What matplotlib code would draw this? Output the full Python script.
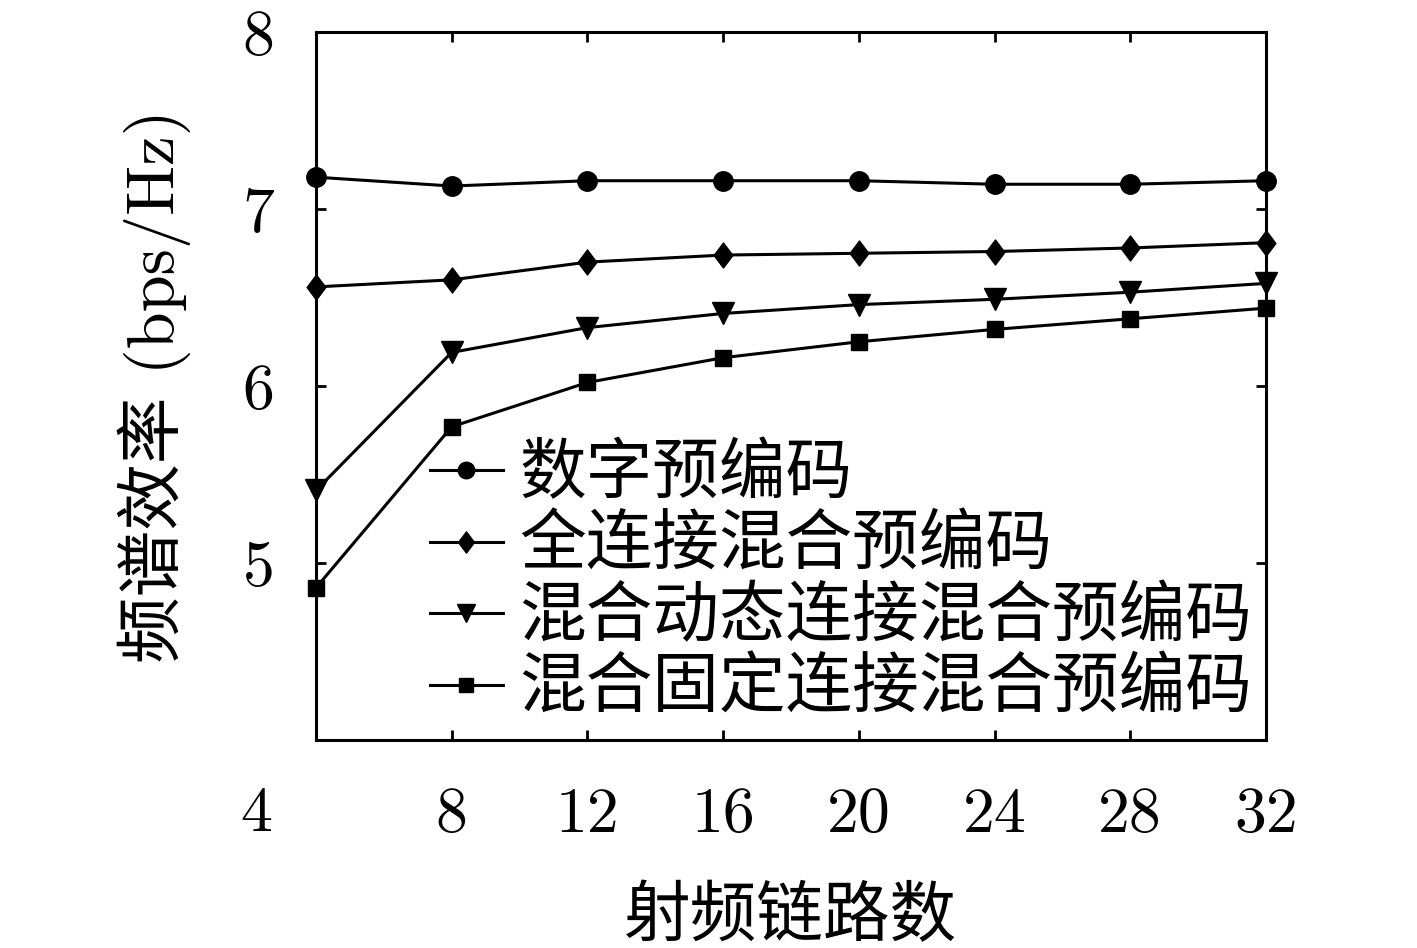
import numpy as np
import matplotlib
matplotlib.use('Agg')
import matplotlib.pyplot as plt
from matplotlib.path import Path

plt.rcParams['font.family'] = ['cmr10', 'Noto Sans CJK SC']
plt.rcParams['axes.unicode_minus'] = False

# data
rf_chains = [4, 8, 12, 16, 20, 24, 28, 32]
digital = [7.18, 7.13, 7.16, 7.16, 7.16, 7.14, 7.14, 7.16]
full_conn = [6.56, 6.60, 6.70, 6.74, 6.75, 6.76, 6.78, 6.81]
dynamic = [5.41, 6.19, 6.33, 6.41, 6.46, 6.49, 6.53, 6.58]
fixed = [4.86, 5.77, 6.02, 6.16, 6.25, 6.32, 6.38, 6.44]
labels = ['数字预编码', '全连接混合预编码', '混合动态连接混合预编码', '混合固定连接混合预编码']
xticks = [4, 8, 12, 16, 20, 24, 28, 32]
yticks = [4, 5, 6, 7, 8]

fs = 46      # numbers
fs_cjk = 48  # chinese text
diamond = Path([(0, 1), (0.75, 0), (0, -1), (-0.75, 0), (0, 1)],
               [Path.MOVETO, Path.LINETO, Path.LINETO, Path.LINETO, Path.CLOSEPOLY])

fig = plt.figure(figsize=(14.17, 9.48), dpi=100)
ax = fig.add_axes([0.2230, 0.2194, 0.6704, 0.7468])

ax.plot(rf_chains, digital, '-', color='k', lw=2.2, marker='o', ms=14, clip_on=False, label=labels[0], zorder=3)
ax.plot(rf_chains, full_conn, '-', color='k', lw=2.2, marker=diamond, ms=18, clip_on=False, label=labels[1], zorder=3)
ax.plot(rf_chains, dynamic, '-', color='k', lw=2.2, marker='v', ms=16, clip_on=False, label=labels[2], zorder=3)
ax.plot(rf_chains, fixed, '-', color='k', lw=2.2, marker='s', ms=11.5, clip_on=False, label=labels[3], zorder=3)

ax.set_xlim(4, 32)
ax.set_ylim(4, 8)
ax.set_xticks(xticks)
ax.set_xticklabels([''] + [str(v) for v in xticks[1:]])
ax.set_yticks(yticks)
ax.set_yticklabels([''] + [str(v) for v in yticks[1:]])
ax.tick_params(direction='in', length=7, width=2, top=True, right=True, labelsize=fs)
ax.tick_params(axis='x', pad=34)
ax.tick_params(axis='y', pad=30)
# corner label "4" shared by both axes
ax.annotate('4', xy=(0, 0), xycoords='axes fraction', xytext=(-43, -54),
            textcoords='offset points', ha='center', va='center', fontsize=fs)
for s in ax.spines.values():
    s.set_linewidth(2.2)

ax.set_xlabel('射频链路数', fontsize=fs_cjk, labelpad=30)
ax.set_ylabel('频谱效率 (bps/Hz)', fontsize=fs_cjk, labelpad=37)

leg = ax.legend(loc='upper left', bbox_to_anchor=(0.12, 0.418), frameon=False, fontsize=fs_cjk,
                handlelength=1.09, handletextpad=0.25, labelspacing=0.14, borderpad=0,
                borderaxespad=0, markerscale=0.85)

fig.savefig('out.png', dpi=100)
